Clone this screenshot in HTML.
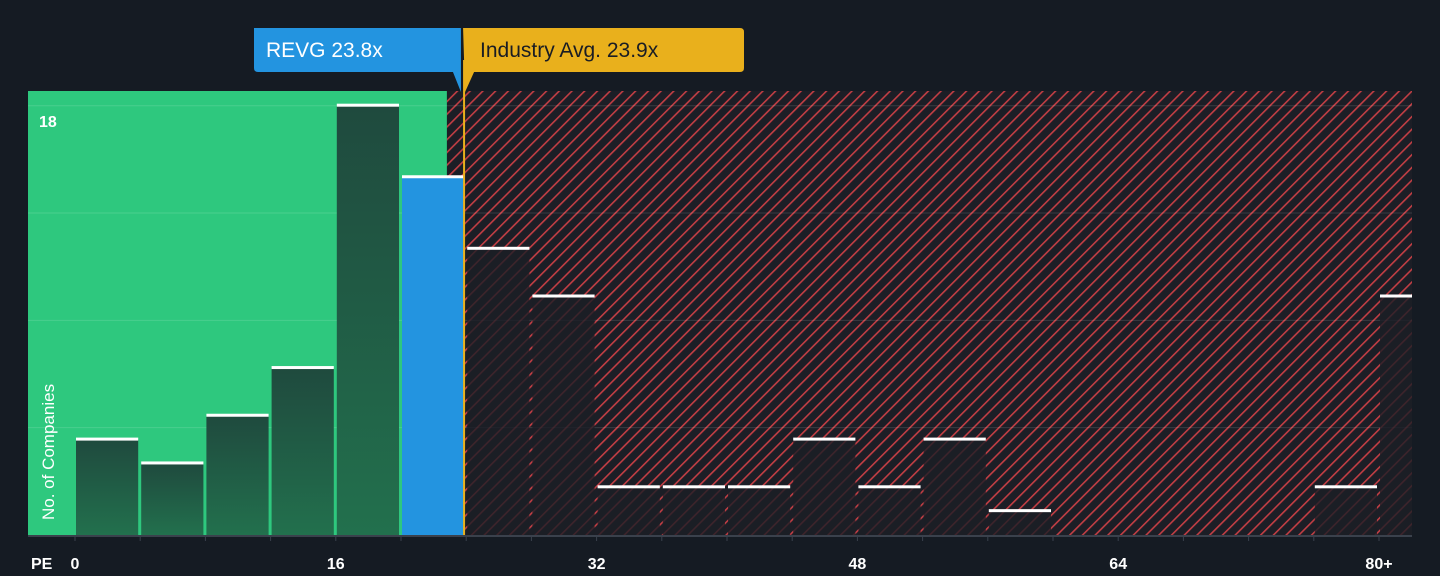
<!DOCTYPE html>
<html><head><meta charset="utf-8"><style>
body{margin:0;background:#151b23;font-family:"Liberation Sans",sans-serif}
</style></head><body>
<svg id="c" width="1440" height="571" xmlns="http://www.w3.org/2000/svg">
<defs>
<pattern id="hatch" patternUnits="userSpaceOnUse" width="9" height="9" patternTransform="rotate(45)">
<rect width="9" height="9" fill="#1c1e26"/>
<rect x="0" y="0" width="1.6" height="9" fill="#c23e44"/>
</pattern>
<linearGradient id="gbar" x1="0" y1="0" x2="0" y2="1"><stop offset="0" stop-color="#1f4a3e"/><stop offset="1" stop-color="#22704d"/></linearGradient>
</defs>
</svg>
<script>
const bins=[0,4,8,12,16,20,24,28,32,36,40,44,48,52,56,60,64,68,72,76,80];
const counts=[4,3,5,7,18,15,12,10,2,2,2,4,2,4,1,0,0,0,0,2,10];
const xTicks=[0,16,32,48,64,80];
const xTickLabels=["0","16","32","48","64","80+"];
const revg=23.8, industry=23.9;
const NS="http://www.w3.org/2000/svg";
const svg=document.getElementById('c');
const X=v=>75+v*16.3;
const Y=v=>535-v*23.85;
const plotTop=91,plotLeft=28,plotRight=1412,plotBase=535;
function el(t,a,p){const e=document.createElementNS(NS,t);for(const k in a)e.setAttribute(k,a[k]);(p||svg).appendChild(e);return e;}
const gx=X(revg)-16;
let r=el('rect',{x:plotLeft,y:plotTop,width:gx-plotLeft,height:plotBase-plotTop,fill:'#2ec87e'});


r=el('rect',{x:gx,y:plotTop,width:plotRight-gx,height:plotBase-plotTop,fill:'url(#hatch)'});


[4.5,9,13.5,18].forEach(v=>{const l=el('line',{x1:plotLeft,x2:plotRight,y1:Y(v),y2:Y(v),stroke:'rgba(255,255,255,0.13)','stroke-width':1});

});
counts.forEach((c,i)=>{
 if(!c)return;
 const x0=X(bins[i])+1;
 let w=X(4)-X(0)-3;
 if(x0+w>plotRight)w=plotRight-x0;
 const y=Y(c);
 const isRevg=revg>=bins[i]&&revg<bins[i]+4;
 const inGreen=bins[i]+4<=revg;
 const fill=isRevg?'#2394e0':(inGreen?'url(#gbar)':'rgba(28,30,38,0.8)');
 const b=el('rect',{x:x0,y:y,width:w,height:plotBase-y,fill:fill});
 
 
 const cap=el('rect',{x:x0,y:y-2,width:w,height:3,fill:'#fff'});
 
 
});
let ax=el('line',{x1:plotLeft,x2:plotRight,y1:plotBase+1,y2:plotBase+1,stroke:'#3a414c','stroke-width':2});


bins.forEach(b=>{const t=el('line',{x1:X(b),x2:X(b),y1:plotBase,y2:plotBase+6,stroke:'#3a414c','stroke-width':1});

});
xTicks.forEach((v,i)=>{const t=el('text',{x:X(v),y:569,fill:'#fff','font-size':16,'font-weight':'bold','text-anchor':'middle'});t.textContent=xTickLabels[i];

});
let t=el('text',{x:31,y:569,fill:'#fff','font-size':16,'font-weight':'bold'});t.textContent='PE';


t=el('text',{x:39,y:127,fill:'#fff','font-size':16,'font-weight':'bold'});t.textContent='18';


t=el('text',{x:54,y:520,fill:'#fff','font-size':17,transform:'rotate(-90 54 520)'});t.textContent='No. of Companies';


const ix=X(industry)-0.5;
let il=el('line',{x1:ix,x2:ix,y1:60,y2:plotBase,stroke:'#e9b01c','stroke-width':2});


const rx=X(revg)-2;
let p=el('path',{d:`M254 28 H${rx} V92 L${rx-8} 72 H258 Q254 72 254 68 Z`,fill:'#2394e0'});


t=el('text',{x:266,y:57,fill:'#fff','font-size':21});t.textContent='REVG 23.8x';


p=el('path',{d:`M${ix-1} 28 H740 Q744 28 744 32 V68 Q744 72 740 72 H${ix+10} L${ix+1} 92 Z`,fill:'#e9b01c'});


t=el('text',{x:480,y:57,fill:'#1a1d24','font-size':21});t.textContent='Industry Avg. 23.9x';


</script>
</body></html>
